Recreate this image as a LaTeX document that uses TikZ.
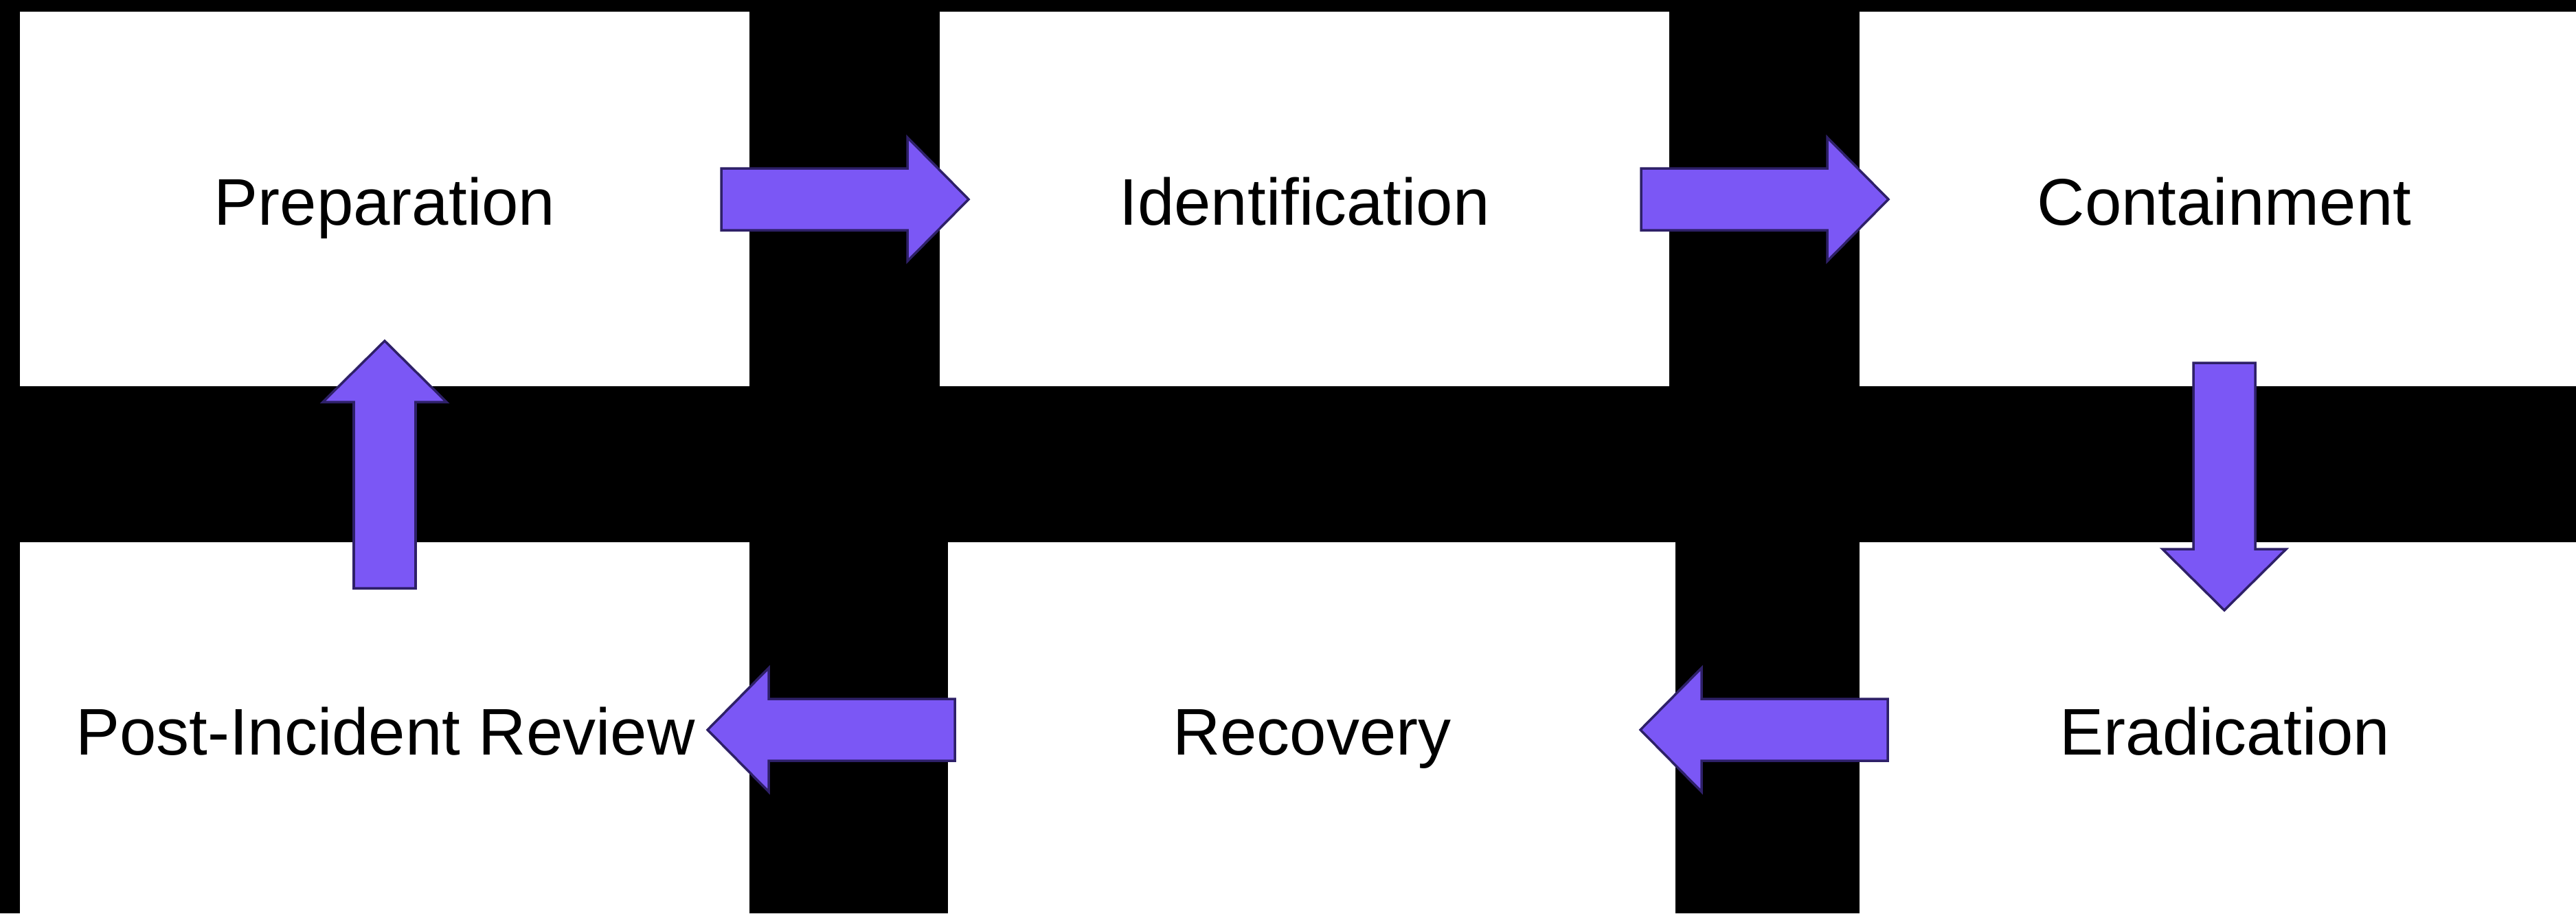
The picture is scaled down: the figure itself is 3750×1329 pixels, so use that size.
\documentclass[tikz,border=0pt]{standalone}
\usepackage{fontspec}
\setmainfont{Liberation Sans}
\definecolor{arrowfill}{HTML}{7B57F5}
\definecolor{arrowline}{HTML}{2E2068}
\tikzset{
  panel/.style={fill=white, draw=none},
  phase/.style={font=\fontsize{27.3}{32}\selectfont, anchor=base, inner sep=0pt},
  blockarrow/.pic={\filldraw[fill=arrowfill, draw=arrowline, line width=1pt, line join=miter]
    (0,-45)--(271,-45)--(271,-90)--(360,0)--(271,90)--(271,45)--(0,45)--cycle;}
}
\begin{document}
\begin{tikzpicture}[x=0.01cm,y=-0.01cm]
\fill[black] (0,0) rectangle (3750,1329);
\useasboundingbox (0,0) rectangle (3750,1329);
% panels
\fill[panel] (29,17) rectangle (1091,562);
\fill[panel] (1368,17) rectangle (2430,562);
\fill[panel] (2707,17) rectangle (3750,562);
\fill[panel] (29,789) rectangle (1091,1329);
\fill[panel] (1380,789) rectangle (2439,1329);
\fill[panel] (2707,789) rectangle (3750,1329);
% labels
\node[phase] (prep)  at (560,327)  {Preparation};
\node[phase] (ident) at (1899,327) {Identification};
\node[phase] (cont)  at (3238,327) {Containment};
\node[phase] (post)  at (561,1098) {Post-Incident Review};
\node[phase] (recov) at (1910,1098) {Recovery};
\node[phase] (erad)  at (3239,1098) {Eradication};
% block arrows
\pic at (1050,290) {blockarrow};
\pic at (2389,290) {blockarrow};
\pic[rotate=-90] at (3238,528) {blockarrow};
\pic[rotate=180] at (2748,1062) {blockarrow};
\pic[rotate=180] at (1390,1062) {blockarrow};
\pic[rotate=90] at (560,856) {blockarrow};
\end{tikzpicture}
\end{document}
